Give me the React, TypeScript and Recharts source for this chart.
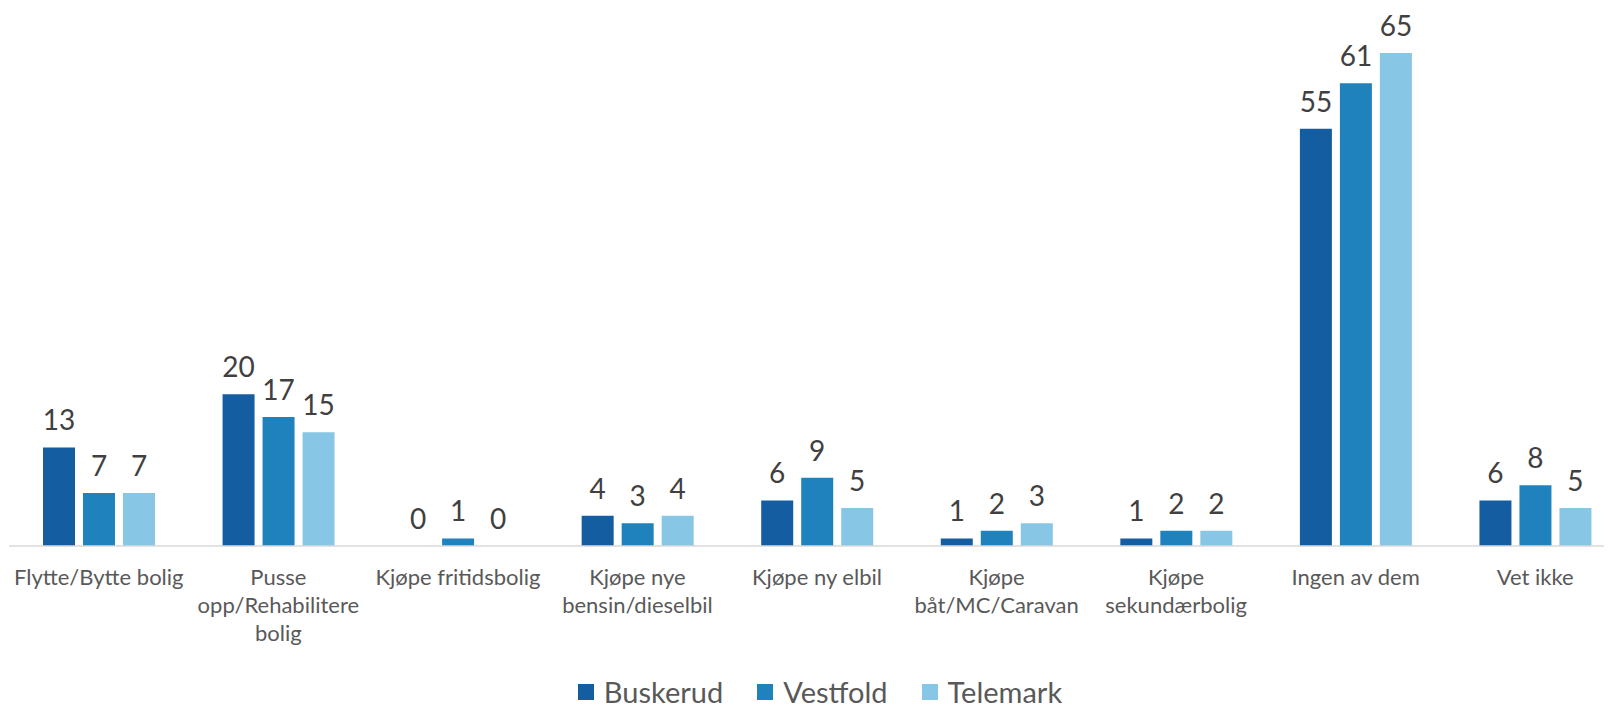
import React from 'react'
import { BarChart, Bar, XAxis, YAxis, Legend, LabelList } from 'recharts'

const categories = [
  'Flytte/Bytte bolig',
  'Pusse\nopp/Rehabilitere\nbolig',
  'Kjøpe fritidsbolig',
  'Kjøpe nye\nbensin/dieselbil',
  'Kjøpe ny elbil',
  'Kjøpe\nbåt/MC/Caravan',
  'Kjøpe\nsekundærbolig',
  'Ingen av dem',
  'Vet ikke',
]
const buskerud = [13, 20, 0, 4, 6, 1, 1, 55, 6]
const vestfold = [7, 17, 1, 3, 9, 2, 2, 61, 8]
const telemark = [7, 15, 0, 4, 5, 3, 2, 65, 5]

const series = [
  { key: 'Buskerud', color: '#145DA0' },
  { key: 'Vestfold', color: '#1F82BD' },
  { key: 'Telemark', color: '#87C6E5' },
]

const chartData = categories.map((name, i) => ({
  name,
  Buskerud: buskerud[i],
  Vestfold: vestfold[i],
  Telemark: telemark[i],
}))

const FONT = 'Lato, "Open Sans", sans-serif'

function CategoryTick({ x, y, payload }: any) {
  const lines = String(payload.value).split('\n')
  return (
    <text x={x} y={y} textAnchor="middle" fill="#595959" fontSize={22} fontFamily={FONT}>
      {lines.map((l, i) => (
        <tspan key={i} x={x} dy={i === 0 ? 39 : 28}>
          {l}
        </tspan>
      ))}
    </text>
  )
}

// value labels, drawn by hand so that zeros show too
function ValueLabel(props: any) {
  const { x, y, width, value } = props
  if (value == null) return null
  return (
    <text
      x={Number(x) + Number(width) / 2}
      y={Number(y) - 17}
      textAnchor="middle"
      fill="#404040"
      fontSize={28}
      fontFamily={FONT}
    >
      {String(value)}
    </text>
  )
}

function LegendBox() {
  return (
    <div style={{ display: 'flex', justifyContent: 'center', alignItems: 'center', gap: 34, fontFamily: FONT }}>
      {series.map((s) => (
        <div key={s.key} style={{ display: 'flex', alignItems: 'center' }}>
          <span style={{ width: 16, height: 16, background: s.color, display: 'inline-block', marginRight: 10 }} />
          <span style={{ fontSize: 29, color: '#595959', lineHeight: '26px' }}>{s.key}</span>
        </div>
      ))}
    </div>
  )
}

export default function App() {
  return (
    <BarChart
      width={1604}
      height={698}
      data={chartData}
      margin={{ top: 7, right: 2, bottom: 0, left: 1 }}
      barGap={8}
      barCategoryGap={34}
    >
      <XAxis
        dataKey="name"
        interval={0}
        height={160}
        tickLine={false}
        tickSize={0}
        tickMargin={0}
        padding={{ left: 0, right: -15 }}
        axisLine={{ stroke: '#d9d9d9', strokeWidth: 1.5 }}
        tick={<CategoryTick />}
      />
      <YAxis hide domain={[0, 70]} />
      <Legend
        verticalAlign="middle"
        content={<LegendBox />}
        wrapperStyle={{ top: 671, left: 10, width: 1604 }}
      />
      {series.map((s) => (
        <Bar key={s.key} dataKey={s.key} fill={s.color} minPointSize={0.01} isAnimationActive={false}>
          <LabelList dataKey={s.key} content={<ValueLabel />} />
        </Bar>
      ))}
    </BarChart>
  )
}
